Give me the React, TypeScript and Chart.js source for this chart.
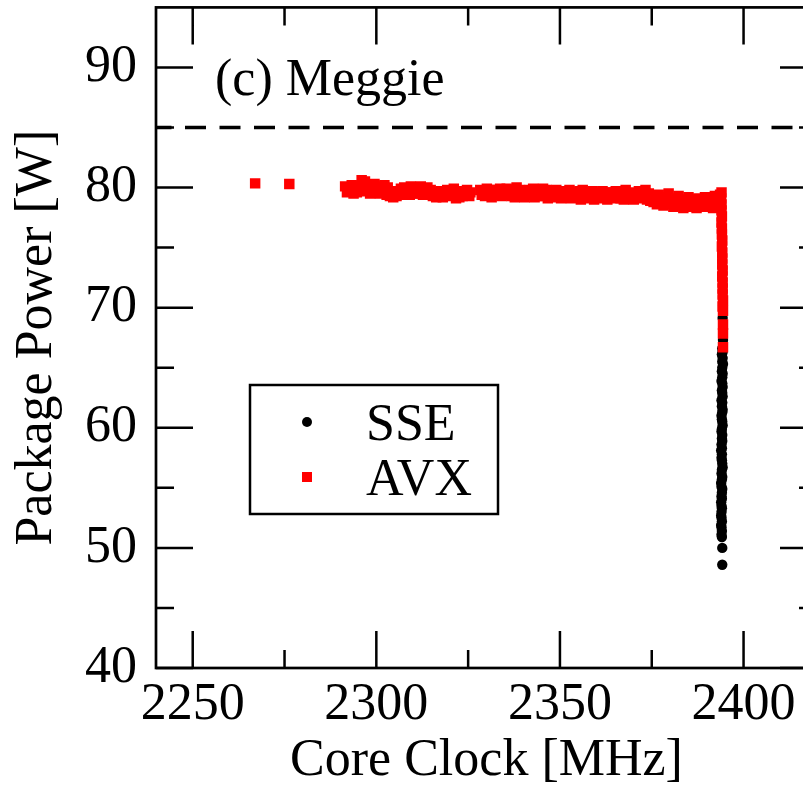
import { useEffect, useRef } from "react";
import { Chart, registerables } from "chart.js";

Chart.register(...registerables);

// ---------- data ----------
const xTickValues = [2250, 2300, 2350, 2400];
const xMinorTicks = [2275, 2325, 2375];
const yTickValues = [40, 50, 60, 70, 80, 90];
const yMinorTicks = [45, 55, 65, 75, 85];
const xRange = [2240, 2420];
const yRange = [40, 95];
const powerLimit = 85;
const panelLabel = "(c) Meggie";
const xTitle = "Core Clock [MHz]";
const yTitle = "Package Power [W]";
const seriesNames = ["SSE", "AVX"];

const sseClock = [
  2394.3, 2394.4,
  2394.2, 2394.3, 2394.1, 2394.3, 2394.2, 2394.4, 2394.2, 2394.1, 2394.3, 2394.2,
  2394.0, 2394.2, 2394.3, 2394.1, 2394.2, 2394.3, 2394.0, 2394.2, 2394.1, 2394.3,
  2394.2, 2394.0, 2394.1, 2394.2, 2394.3, 2394.1, 2394.0, 2394.2, 2394.1, 2394.2,
  2394.0, 2394.1, 2393.9, 2394.1, 2394.0, 2394.1, 2394.2, 2394.3, 2394.1, 2394.0,
  2394.2, 2394.1, 2393.9, 2394.0, 2394.2, 2394.1, 2394.0, 2394.1, 2393.9, 2394.0,
  2394.1, 2394.0, 2393.9, 2394.0, 2394.1, 2393.9, 2394.0, 2394.1, 2394.0, 2394.1,
  2394.2, 2394.2,
];
const ssePower = [
  69.15, 67.3,
  66.6, 66.3, 66.1, 65.8, 65.5, 65.3, 65.0, 64.7, 64.5, 64.2,
  63.9, 63.7, 63.4, 63.1, 62.9, 62.6, 62.3, 62.1, 61.8, 61.5,
  61.3, 61.0, 60.7, 60.5, 60.2, 59.9, 59.7, 59.4, 59.1, 58.9,
  58.6, 58.3, 58.1, 57.8, 57.5, 57.3, 57.0, 56.7, 56.5, 56.2,
  55.9, 55.7, 55.4, 55.1, 54.9, 54.6, 54.3, 54.1, 53.8, 53.5,
  53.3, 53.0, 52.7, 52.5, 52.2, 51.9, 51.7, 51.4, 51.1, 50.9,
  50.0, 48.6,
];

// AVX: two isolated low-clock points, an upper and a lower row of the
// plateau, then the vertical column at ~2394 MHz
const avxClock = [
  2267.0, 2276.3,
  2291.5, 2292.4, 2293.3, 2294.2, 2295.1, 2296.0, 2296.9, 2297.8, 2298.6, 2299.5,
  2300.4, 2301.3, 2302.2, 2303.1, 2304.0, 2304.9, 2305.8, 2306.7, 2307.6, 2308.5,
  2309.4, 2310.3, 2311.2, 2312.1, 2313.0, 2313.9, 2314.8, 2315.7, 2316.6, 2317.5,
  2318.4, 2319.3, 2320.2, 2321.1, 2322.0, 2322.9, 2323.8, 2324.7, 2325.6, 2328.3,
  2329.2, 2330.1, 2331.0, 2331.9, 2332.8, 2333.7, 2334.6, 2335.5, 2336.4, 2337.3,
  2338.2, 2339.1, 2340.0, 2340.9, 2341.8, 2342.7, 2343.6, 2344.5, 2345.4, 2346.3,
  2347.2, 2348.1, 2349.0, 2349.9, 2350.8, 2351.7, 2352.6, 2353.5, 2354.4, 2355.3,
  2356.2, 2357.1, 2358.0, 2358.9, 2359.8, 2360.7, 2361.6, 2362.5, 2363.4, 2364.3,
  2365.2, 2366.1, 2367.0, 2367.9, 2368.8, 2369.7, 2370.6, 2371.5, 2372.4, 2373.3,
  2374.2, 2375.1, 2376.0, 2376.9, 2377.8, 2378.7, 2379.6, 2380.5, 2381.4, 2382.3,
  2383.2, 2384.1, 2385.0, 2385.9, 2386.8, 2387.7, 2388.6, 2389.5, 2390.4, 2391.3,
  2392.2, 2393.1, 2393.6,
  2292.0, 2292.9, 2293.8, 2294.7, 2295.6, 2296.5, 2297.4, 2298.3, 2299.2, 2300.1,
  2301.0, 2301.9, 2302.8, 2303.7, 2304.6, 2305.5, 2306.4, 2307.3, 2308.2, 2309.1,
  2310.0, 2310.9, 2311.8, 2312.7, 2313.6, 2314.5, 2315.4, 2316.3, 2317.2, 2318.1,
  2319.0, 2319.9, 2320.8, 2321.7, 2322.6, 2323.5, 2324.4, 2325.3, 2328.7, 2329.6,
  2330.5, 2331.4, 2332.3, 2333.2, 2334.1, 2335.0, 2335.9, 2336.8, 2337.7, 2338.6,
  2339.5, 2340.4, 2341.3, 2342.2, 2343.1, 2344.0, 2344.9, 2345.8, 2346.7, 2347.6,
  2348.5, 2349.4, 2350.3, 2351.2, 2352.1, 2353.0, 2353.9, 2354.8, 2355.7, 2356.6,
  2357.5, 2358.4, 2359.3, 2360.2, 2361.1, 2362.0, 2362.9, 2363.8, 2364.7, 2365.6,
  2366.5, 2367.4, 2368.3, 2369.2, 2370.1, 2371.0, 2371.9, 2372.8, 2373.7, 2374.6,
  2375.5, 2376.4, 2377.3, 2378.2, 2379.1, 2380.0, 2380.9, 2381.8, 2382.7, 2383.6,
  2384.5, 2385.4, 2386.3, 2387.2, 2388.1, 2389.0, 2389.9, 2390.8, 2391.7, 2392.6,
  2394.0, 2393.9, 2394.0, 2394.0, 2394.1, 2394.0, 2394.1, 2394.1, 2394.2, 2394.1,
  2394.2, 2394.2, 2394.2, 2394.3, 2394.2, 2394.3, 2394.3, 2394.3, 2394.4, 2394.3,
  2394.4, 2394.4, 2394.4, 2394.4,
];
const avxPower = [
  80.35, 80.3,
  80.1, 80.0, 80.2, 79.9, 80.1, 80.6, 80.5, 80.2, 79.8, 80.3,
  80.1, 79.9, 80.2, 80.0, 79.7, 79.5, 79.6, 79.9, 80.0, 79.8,
  80.1, 79.9, 80.0, 80.1, 79.9, 80.0, 79.8, 79.6, 79.5, 79.7,
  79.6, 79.8, 79.7, 79.9, 79.3, 79.5, 79.7, 79.8, 79.6, 79.8,
  79.7, 79.9, 79.8, 79.6, 79.8, 79.9, 79.7, 79.9, 79.8, 79.6,
  80.0, 79.8, 79.7, 79.5, 79.8, 79.9, 79.6, 79.7, 79.9, 79.8,
  79.5, 79.7, 79.8, 79.6, 79.4, 79.7, 79.8, 79.6, 79.5, 79.7,
  79.8, 79.6, 79.4, 79.7, 79.6, 79.5, 79.7, 79.6, 79.4, 79.6,
  79.7, 79.5, 79.6, 79.8, 79.6, 79.4, 79.5, 79.7, 79.6, 79.8,
  79.5, 79.3, 79.1, 79.4, 79.0, 79.2, 79.5, 79.1, 78.9, 79.3,
  79.0, 78.8, 79.2, 79.0, 78.7, 79.1, 78.9, 79.2, 78.8, 79.0,
  79.3, 78.9, 79.4,
  79.6, 79.7, 79.5, 79.6, 79.8, 80.0, 79.7, 79.5, 79.6, 79.7,
  79.5, 79.6, 79.4, 79.3, 79.2, 79.3, 79.4, 79.5, 79.6, 79.4,
  79.5, 79.6, 79.5, 79.4, 79.6, 79.5, 79.3, 79.2, 79.3, 79.2,
  79.4, 79.3, 79.5, 79.1, 79.2, 79.3, 79.4, 79.3, 79.4, 79.3,
  79.5, 79.2, 79.4, 79.5, 79.3, 79.4, 79.5, 79.3, 79.2, 79.4,
  79.3, 79.2, 79.4, 79.5, 79.2, 79.3, 79.4, 79.3, 79.1, 79.3,
  79.4, 79.2, 79.1, 79.3, 79.2, 79.1, 79.3, 79.2, 79.0, 79.2,
  79.3, 79.1, 79.0, 79.2, 79.3, 79.1, 79.0, 79.2, 79.1, 79.3,
  79.1, 79.0, 79.2, 79.1, 79.0, 79.2, 79.1, 79.3, 79.0, 78.9,
  78.8, 78.6, 78.7, 78.5, 78.8, 78.6, 78.4, 78.6, 78.5, 78.3,
  78.6, 78.4, 78.5, 78.3, 78.6, 78.4, 78.7, 78.5, 78.3, 78.6,
  79.6, 79.1, 78.6, 78.1, 77.6, 77.1, 76.6, 76.1, 75.6, 75.1,
  74.6, 74.1, 73.6, 73.1, 72.6, 72.1, 71.6, 71.1, 70.6, 70.1,
  69.75, 68.6, 67.85, 66.7,
];

const FONT = "'Liberation Serif', 'Times New Roman', serif";

const toPoints = (xs: number[], ys: number[]) => xs.map((x, i) => ({ x, y: ys[i] }));

const framePlugin = {
  id: "frameAndDecor",
  afterDatasetsDraw(chart: any) {
    const { ctx, chartArea: a, scales } = chart;
    const xs = scales.x;
    const ys = scales.y;
    ctx.save();
    ctx.strokeStyle = "#000";
    ctx.lineCap = "butt";
    // frame
    ctx.lineWidth = 2.7;
    ctx.strokeRect(a.left, a.top, a.right - a.left, a.bottom - a.top);
    // inward ticks on all four sides
    const major = 37;
    const minor = 18;
    ctx.lineWidth = 2.5;
    ctx.beginPath();
    const vTick = (v: number, len: number) => {
      const px = xs.getPixelForValue(v);
      ctx.moveTo(px, a.bottom);
      ctx.lineTo(px, a.bottom - len);
      ctx.moveTo(px, a.top);
      ctx.lineTo(px, a.top + len);
    };
    const hTick = (v: number, len: number) => {
      const py = ys.getPixelForValue(v);
      ctx.moveTo(a.left, py);
      ctx.lineTo(a.left + len, py);
      ctx.moveTo(a.right, py);
      ctx.lineTo(a.right - len, py);
    };
    xTickValues.forEach((v) => vTick(v, major));
    xMinorTicks.forEach((v) => vTick(v, minor));
    yTickValues.forEach((v) => hTick(v, major));
    yMinorTicks.forEach((v) => hTick(v, minor));
    ctx.stroke();

    // panel label
    ctx.fillStyle = "#000";
    ctx.font = `52px ${FONT}`;
    ctx.textAlign = "left";
    ctx.textBaseline = "alphabetic";
    ctx.fillText(panelLabel, 215, 95);

    // legend
    ctx.lineWidth = 2.5;
    ctx.strokeRect(250, 385, 248, 129);
    ctx.fillStyle = "#000";
    ctx.beginPath();
    ctx.arc(307, 422, 5, 0, Math.PI * 2);
    ctx.fill();
    ctx.fillStyle = "#ff0000";
    ctx.fillRect(302, 472, 10, 10);
    ctx.fillStyle = "#000";
    ctx.fillText(seriesNames[0], 366, 440);
    ctx.fillText(seriesNames[1], 366, 495);
    ctx.restore();
  },
};

export default function App() {
  const canvasRef = useRef<HTMLCanvasElement | null>(null);

  useEffect(() => {
    const canvas = canvasRef.current;
    if (!canvas) return;
    const chart = new Chart(canvas, {
      type: "scatter",
      data: {
        datasets: [
          {
            label: seriesNames[0],
            data: toPoints(sseClock, ssePower),
            pointStyle: "circle",
            pointRadius: 5.2,
            pointBorderWidth: 0,
            backgroundColor: "#000000",
            borderColor: "#000000",
            order: 2,
          },
          {
            label: seriesNames[1],
            data: toPoints(avxClock, avxPower),
            pointStyle: "rect",
            pointRadius: 7.4,
            pointBorderWidth: 0,
            backgroundColor: "#ff0000",
            borderColor: "#ff0000",
            order: 1,
          },
          {
            type: "line",
            label: "limit",
            data: [
              { x: xRange[0], y: powerLimit },
              { x: xRange[1], y: powerLimit },
            ],
            borderColor: "#000000",
            borderWidth: 3.5,
            borderDash: [21, 13.5],
            borderDashOffset: 5.5,
            pointRadius: 0,
            showLine: true,
            fill: false,
            order: 0,
          } as any,
        ],
      },
      options: {
        responsive: false,
        animation: false,
        devicePixelRatio: 1,
        layout: { padding: { left: 0, top: 7, right: 23, bottom: 0 } },
        plugins: {
          legend: { display: false },
          tooltip: { enabled: false },
        },
        scales: {
          x: {
            type: "linear",
            min: xRange[0],
            max: xRange[1],
            afterBuildTicks: (s: any) => {
              s.ticks = xTickValues.map((v) => ({ value: v }));
            },
            afterFit: (s: any) => {
              s.height = 122;
              s.paddingLeft = 0;
              s.paddingRight = 0;
              s.paddingTop = 0;
              s.paddingBottom = 0;
            },
            grid: { display: false, drawTicks: false },
            border: { display: false },
            ticks: {
              color: "#000",
              font: { family: FONT, size: 52 },
              padding: 6,
              maxRotation: 0,
              autoSkip: false,
              callback: (v: any) => String(v),
            },
            title: {
              display: true,
              text: xTitle,
              color: "#000",
              font: { family: FONT, size: 52, lineHeight: 1 },
              padding: { top: 0, bottom: 2.5 },
            },
          },
          y: {
            type: "linear",
            min: yRange[0],
            max: yRange[1],
            afterBuildTicks: (s: any) => {
              s.ticks = yTickValues.map((v) => ({ value: v }));
            },
            afterFit: (s: any) => {
              s.width = 156;
              s.paddingLeft = 0;
              s.paddingRight = 0;
              s.paddingTop = 0;
              s.paddingBottom = 0;
            },
            grid: { display: false, drawTicks: false },
            border: { display: false },
            ticks: {
              color: "#000",
              font: { family: FONT, size: 52 },
              padding: 19,
              autoSkip: false,
              callback: (v: any) => String(v),
            },
            title: {
              display: true,
              text: yTitle,
              color: "#000",
              font: { family: FONT, size: 52, lineHeight: 1 },
              padding: { top: 11.5, bottom: 0 },
            },
          },
        },
      },
      plugins: [framePlugin],
    } as any);
    return () => chart.destroy();
  }, []);

  return (
    <div
      style={{
        position: "absolute",
        left: 0,
        top: 0,
        width: 803,
        height: 790,
        overflow: "hidden",
        background: "#fff",
      }}
    >
      <canvas ref={canvasRef} width={840} height={790} style={{ display: "block", width: 840, height: 790 }} />
    </div>
  );
}
